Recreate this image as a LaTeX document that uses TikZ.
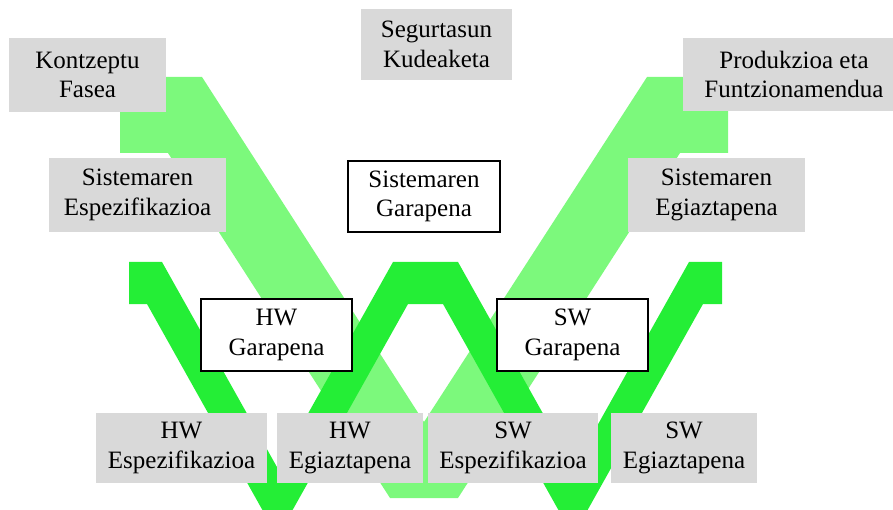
\documentclass[tikz,border=0pt]{standalone}
\usepackage{fontspec}
\setmainfont{Liberation Serif}
\newfontfamily\boxfont{Liberation Serif}
\definecolor{vlight}{RGB}{124,249,124}
\definecolor{wdark}{RGB}{36,238,54}
\definecolor{phasegray}{RGB}{217,217,217}
\begin{document}
\begin{tikzpicture}[x=1pt,y=-1pt,
  every node/.style={font=\boxfont\fontsize{25}{29.5}\selectfont,align=center,inner sep=0pt},
  phase/.style={fill=phasegray},
  devbox/.style={draw=black,line width=1.5pt,fill=white}]
\useasboundingbox (0,0) rectangle (893,510);
% system V
\fill[vlight] (120,77) -- (202,77) -- (424,422) -- (647,77) -- (728,77) -- (728,153)
  -- (680,153) -- (458,498) -- (390,498) -- (168,153) -- (120,153) -- cycle;
% HW / SW W
\fill[wdark] (129,262) -- (162,262) -- (277.5,468) -- (393,262) -- (458,262)
  -- (573.5,468) -- (689,262) -- (722,262) -- (722,304) -- (703,304)
  -- (587.6,510) -- (558.4,510) -- (443,304) -- (408,304) -- (292.6,510)
  -- (262.4,510) -- (147,304) -- (129,304) -- cycle;
% system level
\node[phase,minimum width=157pt,minimum height=74pt] (kontz) at (87.5,75) {Kontzeptu\\Fasea};
\node[phase,minimum width=151pt,minimum height=71pt] (segur) at (436.5,44.5) {Segurtasun\\Kudeaketa};
\node[phase,minimum width=222pt,minimum height=73pt] (prod) at (794,74.5) {Produkzioa eta\\Funtzionamendua};
\node[phase,minimum width=177pt,minimum height=74pt] (sisesp) at (137.5,195) {Sistemaren\\Espezifikazioa};
\node[devbox,minimum width=152pt,minimum height=71pt] (sisgar) at (424,196.5) {Sistemaren\\Garapena};
\node[phase,minimum width=177pt,minimum height=74pt] (sisegi) at (716.5,195) {Sistemaren\\Egiaztapena};
% HW and SW level
\node[devbox,minimum width=151pt,minimum height=72pt] (hwgar) at (276.5,335) {HW\\Garapena};
\node[devbox,minimum width=151pt,minimum height=72pt] (swgar) at (572.5,335) {SW\\Garapena};
\foreach \nm/\cx/\w/\txt in {hwesp/181.5/171/{HW\\Espezifikazioa},hwegi/350/146/{HW\\Egiaztapena},
  swesp/513/170/{SW\\Espezifikazioa},swegi/684/146/{SW\\Egiaztapena}}
  \node[phase,minimum width=\w pt,minimum height=70pt] (\nm) at (\cx,448) {\txt};
\end{tikzpicture}
\end{document}
